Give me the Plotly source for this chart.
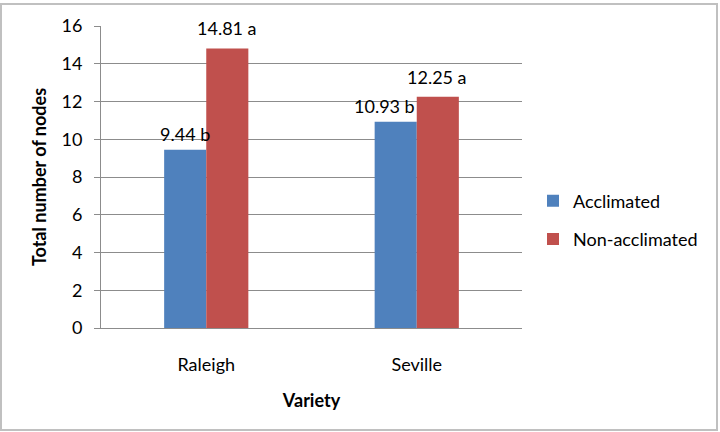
import plotly.graph_objects as go

varieties = ["Raleigh", "Seville"]
acclimated = [9.44, 10.93]
non_acclimated = [14.81, 12.25]
acc_labels = ["9.44 b", "10.93 b"]
non_labels = ["14.81 a", "12.25 a"]
y_ticks = [0, 2, 4, 6, 8, 10, 12, 14, 16]

FONT = "Lato"
BLUE = "#4F81BD"
RED = "#C0504D"
GRID = "#8C8C8C"
FS = 18

fig = go.Figure()
fig.add_trace(go.Bar(name="Acclimated", x=varieties, y=acclimated, legendgroup="a",
                     marker=dict(color=BLUE, line=dict(width=0))))
fig.add_trace(go.Bar(name="Non-acclimated", x=varieties, y=non_acclimated, legendgroup="n",
                     marker=dict(color=RED, line=dict(width=0))))

# data labels
acc_shift = [0, -11]
for i, v in enumerate(varieties):
    fig.add_annotation(x=v, y=acclimated[i], text=acc_labels[i], showarrow=False,
                       xshift=-21 + acc_shift[i], yshift=16, yanchor="middle",
                       font=dict(family=FONT, size=FS, color="black"))
    fig.add_annotation(x=v, y=non_acclimated[i], text=non_labels[i], showarrow=False,
                       xshift=21 + (0 if i == 0 else -1), yshift=20, yanchor="middle",
                       font=dict(family=FONT, size=FS, color="black"))

# outer chart border
fig.add_shape(type="rect", xref="paper", yref="paper",
              x0=(1 - 101) / 421, x1=(717 - 101) / 421,
              y0=(328 - 430) / 302, y1=(328 - 4) / 302,
              line=dict(color="#C0C0C0", width=2), fillcolor="rgba(0,0,0,0)", layer="below")

fig.update_layout(
    width=720, height=432,
    margin=dict(l=101, r=198, t=26, b=104),
    paper_bgcolor="white", plot_bgcolor="white",
    barmode="group", bargap=0.6, bargroupgap=0,
    font=dict(family=FONT, size=FS, color="black"),
    showlegend=True,
    legend=dict(x=(533 - 101) / 421, y=(328 - 220) / 302, xanchor="left", yanchor="middle",
                font=dict(family=FONT, size=FS, color="black"),
                itemwidth=30, tracegroupgap=12, bgcolor="rgba(0,0,0,0)"),
    xaxis=dict(showline=True, linecolor=GRID, linewidth=1, ticks="", showgrid=False,
               ticklabelstandoff=20,
               tickfont=dict(family=FONT, size=FS, color="black"),
               title=dict(text="<b>Variety</b>", standoff=20,
                          font=dict(family=FONT, size=FS, color="black"))),
    yaxis=dict(range=[0, 16], tickvals=y_ticks, showline=True, linecolor=GRID, linewidth=1,
               ticks="outside", ticklen=6, tickcolor=GRID, ticklabelstandoff=8,
               showgrid=True, gridcolor=GRID, gridwidth=1, zeroline=False,
               tickfont=dict(family=FONT, size=FS, color="black"),
               title=dict(text="<b>Total number of nodes</b>", standoff=10,
                          font=dict(family=FONT, size=FS, color="black"))),
)

fig.write_html("out.html")
